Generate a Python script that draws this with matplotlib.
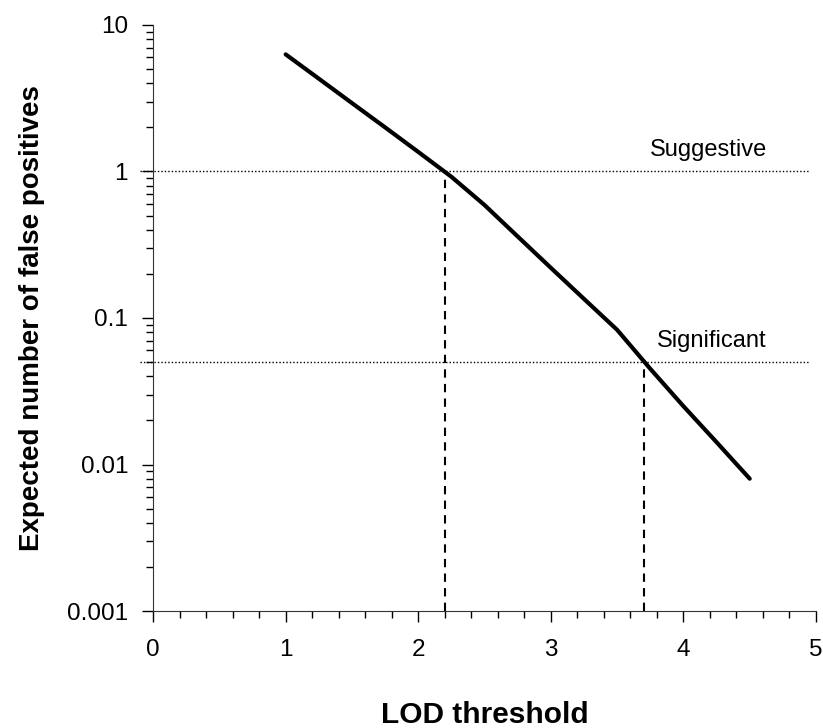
import matplotlib
matplotlib.use("Agg")
import matplotlib.pyplot as plt
from matplotlib.ticker import FixedLocator, FuncFormatter, LogLocator, NullFormatter, MultipleLocator

plt.rcParams["font.family"] = ["Liberation Sans", "DejaVu Sans"]

# expected false positives vs LOD threshold
lod = [1.0, 1.25, 1.5, 1.75, 2.0, 2.25, 2.5, 2.75, 3.0, 3.25, 3.5, 3.75, 4.0, 4.25, 4.5]
fp = [6.3, 4.3, 2.93, 2.0, 1.36, 0.92, 0.59, 0.36, 0.22, 0.135, 0.083, 0.045, 0.025, 0.0142, 0.008]

levels = [1.0, 0.05]
level_names = ["Suggestive", "Significant"]
level_lod = [2.2, 3.7]

y_ticks = [0.001, 0.01, 0.1, 1, 10]
y_labels = ["0.001", "0.01", "0.1", "1", "10"]

fig = plt.figure(figsize=(8.23, 7.28), dpi=100)
ax = fig.add_axes([0.186, 0.1607, 0.8055, 0.805])

ax.plot(lod, fp, color="black", lw=3, solid_capstyle="round", zorder=3)

for lev, name, x in zip(levels, level_names, level_lod):
    ax.plot([-0.1, 4.95], [lev, lev], color="black", lw=1, ls=(0, (1, 1.5)), clip_on=False)
    ax.plot([x, x], [0.001, lev], color="black", lw=1.5, ls=(0, (4, 3)))
    ax.annotate(name, (4.63, lev), xytext=(0, 11), textcoords="offset points",
                ha="right", va="baseline", fontsize=17)

ax.set_xlim(0, 5)
ax.set_ylim(0.001, 10)
ax.set_yscale("log")

ax.yaxis.set_major_locator(FixedLocator(y_ticks))
ax.yaxis.set_major_formatter(FuncFormatter(lambda v, p: y_labels[y_ticks.index(v)] if v in y_ticks else ""))
ax.yaxis.set_minor_locator(LogLocator(base=10, subs=range(2, 10)))
ax.yaxis.set_minor_formatter(NullFormatter())
ax.xaxis.set_major_locator(MultipleLocator(1))
ax.xaxis.set_minor_locator(MultipleLocator(0.2))

for s in ["top", "right"]:
    ax.spines[s].set_visible(False)
for s in ["left", "bottom"]:
    ax.spines[s].set_color("#333333")

ax.tick_params(which="major", length=8, width=1, labelsize=17.5, colors="black", direction="out")
ax.tick_params(which="minor", length=5, width=1, direction="out")
ax.tick_params(axis="x", pad=12)
ax.tick_params(axis="y", pad=10)

ax.set_xlabel("LOD threshold", fontsize=21.5, fontweight="bold", labelpad=29)
ax.set_ylabel("Expected number of false positives", fontsize=20, fontweight="bold", labelpad=16)

fig.savefig("out.png", dpi=100)
